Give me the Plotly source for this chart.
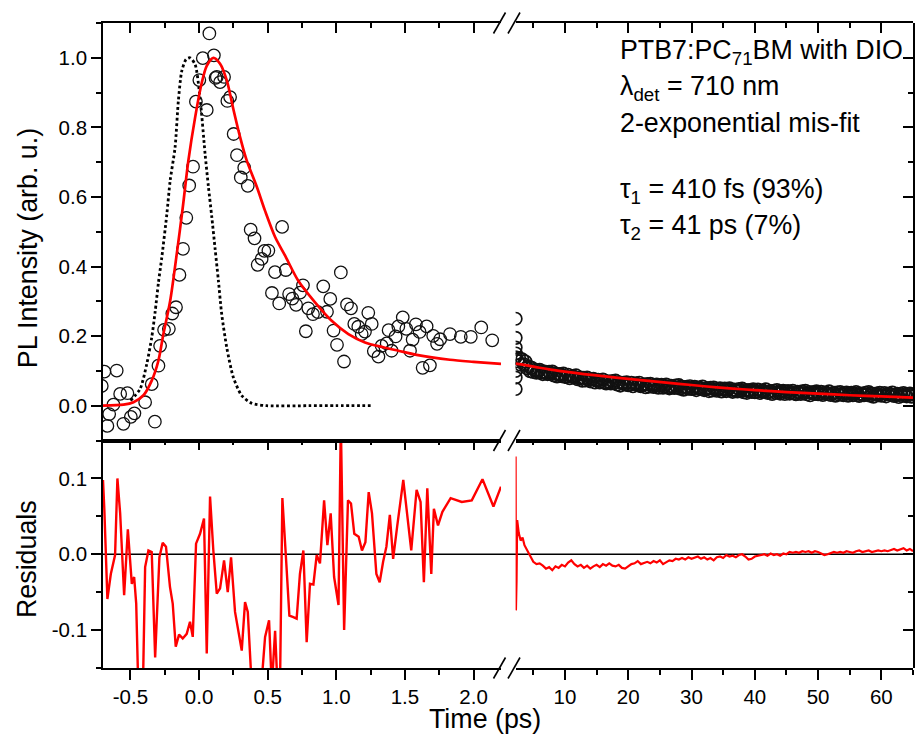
import plotly.graph_objects as go

# ---------------- data ----------------
# left segment (-0.7 .. 2.2 ps): measured PL (open circles)
left_t = [-0.709, -0.690, -0.668, -0.655, -0.624, -0.600, -0.575, -0.551, -0.522, -0.497,
          -0.471, -0.393, -0.345, -0.322, -0.296, -0.284, -0.255, -0.220, -0.195, -0.168,
          -0.143, -0.117, -0.093, -0.072, -0.044, -0.023, 0.002, 0.027, 0.056, 0.075,
          0.108, 0.120, 0.129, 0.153, 0.182, 0.206, 0.226, 0.252, 0.276, 0.304,
          0.329, 0.355, 0.376, 0.404, 0.427, 0.456, 0.476, 0.505, 0.531, 0.553,
          0.584, 0.605, 0.632, 0.656, 0.680, 0.707, 0.736, 0.757, 0.778, 0.796,
          0.830, 0.866, 0.905, 0.932, 0.956, 0.980, 1.005, 1.033, 1.056, 1.078,
          1.107, 1.131, 1.160, 1.185, 1.209, 1.233, 1.258, 1.273, 1.307, 1.330,
          1.367, 1.381, 1.403, 1.432, 1.452, 1.484, 1.510, 1.537, 1.556, 1.580,
          1.607, 1.629, 1.658, 1.682, 1.706, 1.734, 1.757, 1.828, 1.907, 1.980,
          2.056, 2.136]
left_v = [0.057, 0.098, -0.058, -0.024, 0.003, 0.101, 0.034, -0.052, 0.036, -0.032,
          -0.022, 0.010, 0.062, -0.046, 0.115, 0.172, 0.218, 0.221, 0.265, 0.283,
          0.376, 0.451, 0.540, 0.633, 0.687, 0.874, 0.936, 0.999, 0.850, 1.070,
          1.007, 0.942, 0.945, 0.930, 0.945, 0.876, 0.887, 0.781, 0.720, 0.656,
          0.684, 0.632, 0.506, 0.481, 0.405, 0.422, 0.445, 0.446, 0.324, 0.384,
          0.294, 0.514, 0.390, 0.321, 0.308, 0.290, 0.325, 0.346, 0.214, 0.280,
          0.263, 0.269, 0.343, 0.270, 0.307, 0.216, 0.175, 0.383, 0.127, 0.291,
          0.280, 0.235, 0.227, 0.206, 0.213, 0.267, 0.235, 0.157, 0.141, 0.172,
          0.179, 0.217, 0.158, 0.199, 0.228, 0.254, 0.221, 0.158, 0.190, 0.234,
          0.212, 0.109, 0.228, 0.116, 0.201, 0.178, 0.191, 0.206, 0.198, 0.198,
          0.225, 0.188]

# instrument response (dotted)
irf_t = [-0.50, -0.43, -0.381, -0.345, -0.320, -0.296, -0.272, -0.235, -0.211, -0.175,
         -0.151, -0.126, -0.095, -0.066, -0.029, 0.007, 0.044, 0.068, 0.092, 0.117,
         0.141, 0.165, 0.202, 0.250, 0.311, 0.384, 0.493, 0.800, 1.000, 1.250]
irf_v = [0.015, 0.048, 0.120, 0.196, 0.270, 0.354, 0.425, 0.550, 0.646, 0.742,
         0.876, 0.962, 0.995, 1.000, 0.981, 0.885, 0.723, 0.630, 0.545, 0.450,
         0.359, 0.263, 0.167, 0.081, 0.029, 0.007, 0.000, 0.000, 0.000, 0.000]

# 2-exponential fit, left segment
fitL_t = [-0.70, -0.55, -0.478, -0.405, -0.345, -0.296, -0.260, -0.211, -0.163, -0.119,
          -0.078, -0.029, 0.020, 0.056, 0.104, 0.153, 0.202, 0.250, 0.299, 0.347,
          0.420, 0.481, 0.554, 0.626, 0.723, 0.845, 0.966, 1.088, 1.209, 1.342,
          1.452, 1.585, 1.828, 2.000, 2.200]
fitL_v = [0.000, 0.003, 0.010, 0.030, 0.072, 0.130, 0.206, 0.300, 0.435, 0.569,
          0.704, 0.828, 0.929, 0.977, 1.000, 0.983, 0.935, 0.852, 0.772, 0.705,
          0.630, 0.560, 0.485, 0.432, 0.359, 0.297, 0.244, 0.206, 0.182, 0.168,
          0.158, 0.146, 0.132, 0.126, 0.120]

# right segment (2.2 .. 65 ps): measured PL (dense band of open circles)
right_t = [2.2, 2.2, 2.2, 2.2, 2.2, 2.2, 2.2,
           2.25, 2.5, 2.75, 3.0, 3.25, 3.5, 3.75, 4.0, 4.25, 4.5, 4.75, 5.0,
           5.25, 5.5, 5.75, 6.0, 6.25, 6.5, 6.75, 7.0, 7.25, 7.5, 7.75, 8.0, 8.25, 8.5,
           8.75, 9.0, 9.25, 9.5, 9.75, 10.0,
           10.25, 10.5, 10.75, 11.0, 11.25, 11.5, 11.75, 12.0, 12.25, 12.5, 12.75, 13.0,
           13.25, 13.5, 13.75, 14.0, 14.25, 14.5, 14.75, 15.0,
           15.25, 15.5, 15.75, 16.0, 16.25, 16.5, 16.75, 17.0, 17.25, 17.5, 17.75, 18.0,
           18.25, 18.5, 18.75, 19.0, 19.25, 19.5, 19.75, 20.0,
           20.25, 20.5, 20.75, 21.0, 21.25, 21.5, 21.75, 22.0, 22.25, 22.5, 22.75, 23.0,
           23.25, 23.5, 23.75, 24.0, 24.25, 24.5, 24.75, 25.0,
           25.25, 25.5, 25.75, 26.0, 26.25, 26.5, 26.75, 27.0, 27.25, 27.5, 27.75, 28.0,
           28.25, 28.5, 28.75, 29.0, 29.25, 29.5, 29.75, 30.0,
           30.25, 30.5, 30.75, 31.0, 31.25, 31.5, 31.75, 32.0, 32.25, 32.5, 32.75, 33.0,
           33.25, 33.5, 33.75, 34.0, 34.25, 34.5, 34.75, 35.0,
           35.25, 35.5, 35.75, 36.0, 36.25, 36.5, 36.75, 37.0, 37.25, 37.5, 37.75, 38.0,
           38.25, 38.5, 38.75, 39.0, 39.25, 39.5, 39.75, 40.0,
           40.25, 40.5, 40.75, 41.0, 41.25, 41.5, 41.75, 42.0, 42.25, 42.5, 42.75, 43.0,
           43.25, 43.5, 43.75, 44.0, 44.25, 44.5, 44.75, 45.0,
           45.25, 45.5, 45.75, 46.0, 46.25, 46.5, 46.75, 47.0, 47.25, 47.5, 47.75, 48.0,
           48.25, 48.5, 48.75, 49.0, 49.25, 49.5, 49.75, 50.0,
           50.25, 50.5, 50.75, 51.0, 51.25, 51.5, 51.75, 52.0, 52.25, 52.5, 52.75, 53.0,
           53.25, 53.5, 53.75, 54.0, 54.25, 54.5, 54.75, 55.0,
           55.25, 55.5, 55.75, 56.0, 56.25, 56.5, 56.75, 57.0, 57.25, 57.5, 57.75, 58.0,
           58.25, 58.5, 58.75, 59.0, 59.25, 59.5, 59.75, 60.0,
           60.25, 60.5, 60.75, 61.0, 61.25, 61.5, 61.75, 62.0, 62.25, 62.5, 62.75, 63.0,
           63.25, 63.5, 63.75, 64.0, 64.25, 64.5, 64.75, 65.0]
right_v = [0.250, 0.195, 0.167, 0.139, 0.100, 0.081, 0.048,
           0.150, 0.128, 0.137, 0.118, 0.133, 0.119, 0.127, 0.108, 0.113, 0.099, 0.109, 0.097,
           0.103, 0.095, 0.100, 0.103, 0.095, 0.091, 0.098, 0.095, 0.091, 0.097, 0.092, 0.098,
           0.087, 0.092, 0.084, 0.090, 0.091, 0.085, 0.092, 0.083,
           0.083, 0.089, 0.079, 0.084, 0.085, 0.081, 0.087, 0.076, 0.079, 0.081, 0.072, 0.080,
           0.073, 0.081, 0.074, 0.070, 0.076, 0.077, 0.067, 0.073,
           0.074, 0.067, 0.071, 0.075, 0.067, 0.064, 0.070, 0.068, 0.064, 0.071, 0.065, 0.072,
           0.061, 0.067, 0.058, 0.065, 0.066, 0.061, 0.067, 0.059,
           0.060, 0.066, 0.056, 0.062, 0.064, 0.059, 0.066, 0.056, 0.059, 0.061, 0.053, 0.062,
           0.055, 0.063, 0.057, 0.054, 0.059, 0.061, 0.052, 0.058,
           0.060, 0.052, 0.057, 0.061, 0.053, 0.050, 0.057, 0.054, 0.051, 0.058, 0.052, 0.059,
           0.049, 0.054, 0.046, 0.053, 0.054, 0.049, 0.056, 0.048,
           0.049, 0.054, 0.045, 0.051, 0.052, 0.048, 0.055, 0.045, 0.048, 0.050, 0.042, 0.051,
           0.044, 0.052, 0.046, 0.043, 0.048, 0.050, 0.041, 0.047,
           0.049, 0.042, 0.046, 0.050, 0.043, 0.040, 0.046, 0.044, 0.041, 0.048, 0.043, 0.049,
           0.039, 0.045, 0.037, 0.044, 0.045, 0.040, 0.047, 0.039,
           0.040, 0.046, 0.037, 0.042, 0.044, 0.040, 0.047, 0.037, 0.040, 0.042, 0.034, 0.043,
           0.037, 0.045, 0.038, 0.035, 0.041, 0.043, 0.034, 0.040,
           0.042, 0.035, 0.039, 0.043, 0.036, 0.033, 0.040, 0.038, 0.034, 0.041, 0.036, 0.043,
           0.033, 0.039, 0.030, 0.037, 0.039, 0.034, 0.041, 0.033,
           0.034, 0.040, 0.031, 0.037, 0.038, 0.034, 0.041, 0.031, 0.035, 0.037, 0.029, 0.038,
           0.032, 0.039, 0.033, 0.030, 0.036, 0.038, 0.029, 0.035,
           0.037, 0.030, 0.035, 0.039, 0.031, 0.028, 0.035, 0.033, 0.030, 0.037, 0.032, 0.039,
           0.029, 0.034, 0.026, 0.033, 0.035, 0.030, 0.037, 0.029,
           0.030, 0.036, 0.027, 0.033, 0.035, 0.031, 0.038, 0.028, 0.032, 0.034, 0.025, 0.034,
           0.028, 0.036, 0.030, 0.027, 0.033, 0.035, 0.026, 0.032]

# fit, right segment
fitR_t = [2.2, 4, 6, 8, 10, 13, 16, 20, 24, 28, 32, 36, 40, 45, 50, 55, 60, 65]
fitR_v = [0.121, 0.116, 0.109, 0.103, 0.098, 0.091, 0.085, 0.077, 0.070, 0.063,
          0.056, 0.050, 0.045, 0.039, 0.035, 0.030, 0.027, 0.023]

# residuals, left segment
resL_t = [-0.700, -0.690, -0.668, -0.643, -0.612, -0.595, -0.575, -0.546, -0.519, -0.490,
          -0.473, -0.458, -0.441, -0.410, -0.393, -0.369, -0.345, -0.320, -0.289, -0.265,
          -0.241, -0.212, -0.192, -0.170, -0.146, -0.119, -0.090, -0.066, -0.046, -0.022,
          0.007, 0.036, 0.056, 0.080, 0.104, 0.129, 0.153, 0.182, 0.209, 0.233,
          0.262, 0.311, 0.335, 0.355, 0.384, 0.420, 0.455, 0.481, 0.510, 0.530,
          0.554, 0.573, 0.590, 0.607, 0.633, 0.658, 0.687, 0.711, 0.735, 0.760,
          0.784, 0.808, 0.833, 0.857, 0.881, 0.911, 0.935, 0.959, 0.984, 1.016,
          1.033, 1.057, 1.085, 1.107, 1.131, 1.163, 1.187, 1.212, 1.236, 1.260,
          1.292, 1.316, 1.341, 1.365, 1.390, 1.414, 1.443, 1.488, 1.546, 1.585,
          1.614, 1.638, 1.663, 1.692, 1.711, 1.741, 1.773, 1.833, 1.914, 1.987,
          2.065, 2.145, 2.200]
resL_v = [0.098, 0.058, -0.059, -0.026, -0.001, 0.100, 0.054, -0.054, 0.033, -0.039,
          -0.030, -0.065, -0.190, -0.185, -0.017, 0.005, 0.003, -0.136, -0.004, 0.015,
          0.010, -0.043, -0.065, -0.122, -0.106, -0.111, -0.105, -0.089, -0.109, 0.014,
          0.027, 0.047, -0.131, 0.076, 0.005, -0.052, -0.045, -0.008, -0.050, -0.004,
          -0.076, -0.127, -0.063, -0.076, -0.175, -0.190, -0.170, -0.109, -0.087, -0.175,
          -0.101, -0.180, -0.170, 0.074, -0.004, -0.081, -0.083, -0.085, -0.026, 0.005,
          -0.116, -0.039, -0.040, -0.001, -0.012, 0.071, 0.012, 0.054, -0.030, -0.067,
          0.175, -0.100, 0.071, 0.067, 0.027, 0.023, 0.005, 0.016, 0.082, 0.054,
          -0.026, -0.037, -0.010, 0.010, 0.052, -0.006, 0.036, 0.098, 0.005, 0.085,
          0.069, -0.037, 0.087, -0.026, 0.060, 0.038, 0.056, 0.074, 0.069, 0.071,
          0.099, 0.063, 0.089]

# residuals, right segment
resR_t = [2.2, 2.25, 2.3, 2.35, 2.45, 2.7, 3.0, 3.3, 3.6, 4.0, 4.5, 5.0, 5.5, 6.0, 6.5,
          7.0, 7.5, 8.0, 8.5, 9.0, 9.5, 10.0, 10.5, 11.0, 11.5, 12.0, 12.5, 13.0, 13.5,
          14.0, 14.5, 15.0, 15.5, 16.0, 16.5, 17.0, 17.5, 18.0, 18.5, 19.0, 19.5, 20.0,
          20.5, 21.0, 21.5, 22.0, 22.5, 23.0, 23.5, 24.0, 24.5, 25.0, 25.5, 26.0, 26.5,
          27.0, 27.5, 28.0, 28.5, 29.0, 29.5, 30.0, 30.5, 31.0, 31.5, 32.0, 32.5, 33.0,
          33.5, 34.0, 34.5, 35.0, 35.5, 36.0, 36.5, 37.0, 37.5, 38.0, 38.5, 39.0, 39.5,
          40.0, 40.5, 41.0, 41.5, 42.0, 42.5, 43.0, 43.5, 44.0, 44.5, 45.0, 45.5, 46.0,
          46.5, 47.0, 47.5, 48.0, 48.5, 49.0, 49.5, 50.0, 50.5, 51.0, 51.5, 52.0, 52.5,
          53.0, 53.5, 54.0, 54.5, 55.0, 55.5, 56.0, 56.5, 57.0, 57.5, 58.0, 58.5, 59.0,
          59.5, 60.0, 60.5, 61.0, 61.5, 62.0, 62.5, 63.0, 63.5, 64.0, 64.5, 65.0]
resR_v = [0.129, -0.074, 0.040, -0.035, 0.045, 0.028, 0.018, 0.022, 0.012, 0.006, -0.002,
          -0.010, -0.013, -0.012, -0.015, -0.019, -0.017, -0.021, -0.016, -0.018, -0.014,
          -0.016, -0.011, -0.008, -0.013, -0.016, -0.014, -0.018, -0.015, -0.019, -0.016,
          -0.014, -0.017, -0.013, -0.015, -0.012, -0.015, -0.016, -0.014, -0.018, -0.019,
          -0.016, -0.013, -0.012, -0.009, -0.013, -0.011, -0.010, -0.012, -0.009, -0.011,
          -0.008, -0.013, -0.010, -0.008, -0.009, -0.006, -0.007, -0.005, -0.007, -0.004,
          -0.006, -0.005, -0.003, -0.006, -0.004, -0.007, -0.005, -0.008, -0.004, -0.003,
          -0.005, -0.001, -0.003, -0.002, -0.004, -0.001, 0.000, -0.003, -0.007, -0.006,
          -0.003, -0.002, -0.001, 0.000, -0.002, 0.001, -0.001, 0.000, -0.002, 0.001,
          0.000, 0.003, 0.002, 0.003, 0.002, 0.004, 0.003, 0.004, 0.002, 0.004, 0.003,
          0.001, -0.001, 0.000, 0.002, 0.003, 0.002, 0.003, 0.002, 0.004, 0.003, 0.002,
          0.004, 0.005, 0.003, 0.004, 0.005, 0.003, 0.004, 0.005, 0.004, 0.005, 0.004,
          0.006, 0.007, 0.005, 0.006, 0.008, 0.005, 0.007, 0.004]

# tick labels
xL_ticks = [-0.5, 0.0, 0.5, 1.0, 1.5, 2.0]
xL_text = ["-0.5", "0.0", "0.5", "1.0", "1.5", "2.0"]
xR_ticks = [10, 20, 30, 40, 50, 60]
xR_text = ["10", "20", "30", "40", "50", "60"]
yT_ticks = [0.0, 0.2, 0.4, 0.6, 0.8, 1.0]
yT_text = ["0.0", "0.2", "0.4", "0.6", "0.8", "1.0"]
yB_ticks = [-0.1, 0.0, 0.1]
yB_text = ["-0.1", "0.0", "0.1"]

# ---------------- layout geometry ----------------
FIG_W, FIG_H = 916, 736
ML, MR, MT, MB = 103, 3, 23, 68
PW, PH = FIG_W - ML - MR, FIG_H - MT - MB
FONT = "Liberation Sans, Arial, sans-serif"


def px(x):
    return (x - ML) / PW


def py(y):
    return (FIG_H - MB - y) / PH


dL = px(501)
dR = px(515.6)
ysplit = py(440.5)

LW = 1.6
tickfont = dict(family=FONT, size=20.5, color="black")


def axis(domain, anchor, rng, tv=None, tt=None, ticks="outside", side=None,
         labels=False, minor_dt=None):
    d = dict(domain=domain, range=rng, anchor=anchor, showline=True, linecolor="black",
             linewidth=LW, showgrid=False, zeroline=False, ticks=ticks,
             ticklen=10, tickwidth=LW, tickcolor="black", tickfont=tickfont,
             showticklabels=labels, fixedrange=True)
    if side:
        d["side"] = side
    if tv is not None:
        d["tickmode"] = "array"
        d["tickvals"] = tv
        d["ticktext"] = tt
    if minor_dt is not None and ticks:
        d["minor"] = dict(tickmode="linear", tick0=0, dtick=minor_dt, ticks=ticks,
                          ticklen=5, tickwidth=LW, tickcolor="black", showgrid=False)
    return d


fig = go.Figure()

mk = dict(symbol="circle-open", size=12.5, color="#111111", line=dict(width=1.3))
mk_dense = dict(symbol="circle-open", size=12.5, color="#111111", line=dict(width=1.7))
RED = "#ff0000"

# top-left
fig.add_trace(go.Scatter(x=irf_t, y=irf_v, mode="lines", xaxis="x3", yaxis="y",
                         line=dict(color="black", width=2.8, dash="2.8px,2.6px",
                                   shape="spline", smoothing=0.7)))
fig.add_trace(go.Scatter(x=left_t, y=left_v, mode="markers", xaxis="x3", yaxis="y", marker=mk))
fig.add_trace(go.Scatter(x=fitL_t, y=fitL_v, mode="lines", xaxis="x3", yaxis="y",
                         line=dict(color=RED, width=2.7, shape="spline", smoothing=0.8)))
# top-right
fig.add_trace(go.Scatter(x=right_t, y=right_v, mode="markers", xaxis="x4", yaxis="y",
                         marker=mk_dense))
fig.add_trace(go.Scatter(x=fitR_t, y=fitR_v, mode="lines", xaxis="x4", yaxis="y",
                         line=dict(color=RED, width=2.7, shape="spline", smoothing=0.8)))
# residuals
fig.add_trace(go.Scatter(x=resL_t, y=resL_v, mode="lines", xaxis="x", yaxis="y3",
                         line=dict(color=RED, width=2.4)))
fig.add_trace(go.Scatter(x=resR_t, y=resR_v, mode="lines", xaxis="x2", yaxis="y3",
                         line=dict(color=RED, width=2.2)))
# empty traces so that the frame-only axes (mirrored inward ticks) get drawn
for xa, ya in (("x5", "y3"), ("x6", "y3"), ("x7", "y"), ("x8", "y"),
               ("x4", "y2"), ("x2", "y4")):
    fig.add_trace(go.Scatter(x=[], y=[], mode="lines", xaxis=xa, yaxis=ya,
                             hoverinfo="skip", showlegend=False))

xl = [-0.7, 2.2]
xr = [2.2, 65]
top = [ysplit, 1]
bot = [0, ysplit]
fig.update_layout(
    width=FIG_W, height=FIG_H, showlegend=False,
    margin=dict(l=ML, r=MR, t=MT, b=MB, pad=0),
    paper_bgcolor="white", plot_bgcolor="rgba(0,0,0,0)",
    font=dict(family=FONT, color="black"),
    # residual panel
    xaxis=axis([0, dL], "y3", xl, xL_ticks, xL_text, labels=True, minor_dt=0.25),
    xaxis2=axis([dR, 1], "y3", xr, xR_ticks, xR_text, labels=True, minor_dt=5),
    xaxis5=axis([0, dL], "y3", xl, xL_ticks, xL_text, ticks="inside", side="top",
                minor_dt=0.25),
    xaxis6=axis([dR, 1], "y3", xr, xR_ticks, xR_text, ticks="inside", side="top",
                minor_dt=5),
    yaxis3=axis(bot, "x", [-0.15, 0.15], yB_ticks, yB_text, labels=True, minor_dt=0.05),
    yaxis4=axis(bot, "x2", [-0.15, 0.15], yB_ticks, yB_text, ticks="inside",
                side="right", minor_dt=0.05),
    # top panel
    xaxis3=axis([0, dL], "y", xl, ticks=""),
    xaxis4=axis([dR, 1], "y", xr, ticks=""),
    xaxis7=axis([0, dL], "y", xl, xL_ticks, xL_text, ticks="inside", side="top",
                minor_dt=0.25),
    xaxis8=axis([dR, 1], "y", xr, xR_ticks, xR_text, ticks="inside", side="top",
                minor_dt=5),
    yaxis=axis(top, "x3", [-0.1, 1.1], yT_ticks, yT_text, labels=True, minor_dt=0.1),
    yaxis2=axis(top, "x4", [-0.1, 1.1], yT_ticks, yT_text, ticks="inside",
                side="right", minor_dt=0.1),
)

# zero line of residuals across the whole width
shapes = [dict(type="line", xref="paper", yref="y3", x0=0, x1=1, y0=0, y1=0,
               line=dict(color="black", width=LW), layer="below")]
# axis-break marks "//"
for yb in (23, 440.5, 668):
    for x0 in (493.5, 508):
        shapes.append(dict(type="line", xref="paper", yref="paper",
                           x0=px(x0), x1=px(x0 + 12), y0=py(yb + 10.5), y1=py(yb - 10.5),
                           line=dict(color="black", width=LW)))
fig.update_layout(shapes=shapes)

BIG = dict(family=FONT, size=26.8, color="black")
ann = []
ann.append(dict(text="Time (ps)", x=px(485), y=py(719.3), xref="paper", yref="paper",
                xanchor="center", yanchor="middle", showarrow=False, font=BIG))
ann.append(dict(text="PL Intensity (arb. u.)", x=px(27.7), y=py(248.5), xref="paper",
                yref="paper", xanchor="center", yanchor="middle", textangle=-90,
                showarrow=False, font=BIG))
ann.append(dict(text="Residuals", x=px(27), y=py(559), xref="paper", yref="paper",
                xanchor="center", yanchor="middle", textangle=-90, showarrow=False,
                font=BIG))
info_lines = ["PTB7:PC<sub>71</sub>BM with DIO", "λ<sub>det</sub> = 710 nm",
              "2-exponential mis-fit", "τ<sub>1</sub> = 410 fs (93%)",
              "τ<sub>2</sub> = 41 ps (7%)"]
info_base = [58.3, 94, 130.7, 196.7, 233.3]
for txt, yb in zip(info_lines, info_base):
    ann.append(dict(text=txt, x=px(618), y=py(yb - 25.2), xref="paper", yref="paper",
                    xanchor="left", yanchor="top", showarrow=False, font=BIG))
fig.update_layout(annotations=ann)

fig.write_html("out.html", config={"displayModeBar": False},
               post_script="document.body.style.margin='0';")
